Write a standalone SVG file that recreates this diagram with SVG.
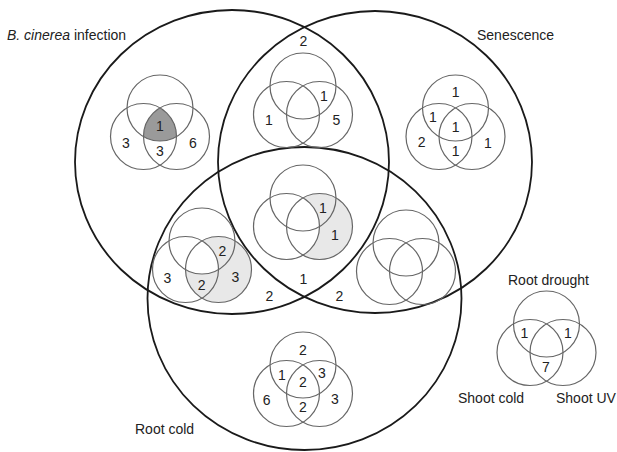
<svg xmlns="http://www.w3.org/2000/svg" xmlns:xlink="http://www.w3.org/1999/xlink" width="617" height="452" viewBox="0 0 617 452">
<style>
.big{fill:none;stroke:#1a1a1a;stroke-width:1.8}
.sm{fill:none;stroke:#666;stroke-width:1.2}
.n{font-family:"Liberation Sans",Arial,sans-serif;font-size:14px;text-anchor:middle;fill:#222}
.lbl{font-family:"Liberation Sans",Arial,sans-serif;font-size:14px;fill:#222}
.dark{fill:#9a9a9a}
.light{fill:#e8e8e8}
</style>
<defs>
<circle id="cT" cx="0" cy="-19" r="33"/>
<circle id="cL" cx="-16.5" cy="9.5" r="33"/>
<circle id="cR" cx="16.5" cy="9.5" r="33"/>
<g id="v3" class="sm"><use href="#cT"/><use href="#cL"/><use href="#cR"/></g>
<clipPath id="clipR"><use href="#cR"/></clipPath>
<clipPath id="clipL"><use href="#cL"/></clipPath>
<clipPath id="clipLR" clip-path="url(#clipR)"><use href="#cL"/></clipPath>
<mask id="mNotL" maskUnits="userSpaceOnUse" x="-80" y="-80" width="160" height="160"><rect x="-80" y="-80" width="160" height="160" fill="#fff"/><use href="#cL" fill="#000"/></mask>
<mask id="mNotTL" maskUnits="userSpaceOnUse" x="-80" y="-80" width="160" height="160"><rect x="-80" y="-80" width="160" height="160" fill="#fff"/><use href="#cT" fill="#000" clip-path="url(#clipL)"/></mask>
</defs>
<rect width="617" height="452" fill="#fff"/>

<g id="set-b-cinerea">
<ellipse class="big" cx="232" cy="162" rx="157" ry="152"/>
<text class="lbl" x="7" y="40"><tspan font-style="italic">B. cinerea</tspan> infection</text>
</g>
<g id="set-senescence">
<ellipse class="big" cx="375" cy="162" rx="157" ry="151"/>
<text class="lbl" x="477" y="40">Senescence</text>
</g>
<g id="set-root-cold">
<ellipse class="big" cx="304.5" cy="298.5" rx="157" ry="151.5"/>
<text class="lbl" x="135" y="434">Root cold</text>
</g>
<g id="big-region-labels">
<text class="n" x="303.5" y="46">2</text>
<text class="n" x="269.3" y="301">2</text>
<text class="n" x="303.3" y="284.3">1</text>
<text class="n" x="339.3" y="301">2</text>
</g>

<g id="venn-b-only">
<g transform="translate(160,127)"><use href="#cT" class="dark" clip-path="url(#clipLR)"/><use href="#v3"/></g>
<text class="n" x="160" y="131">1</text>
<text class="n" x="126" y="148">3</text>
<text class="n" x="160" y="156">3</text>
<text class="n" x="193" y="148">6</text>
</g>

<g id="venn-b-s">
<g transform="translate(303,105)"><use href="#v3"/></g>
<text class="n" x="324" y="101">1</text>
<text class="n" x="269" y="125">1</text>
<text class="n" x="336.5" y="125">5</text>
</g>

<g id="venn-s-only">
<g transform="translate(455.5,127)"><use href="#v3"/></g>
<text class="n" x="455.7" y="97">1</text>
<text class="n" x="433" y="122">1</text>
<text class="n" x="455.7" y="132">1</text>
<text class="n" x="421.7" y="147">2</text>
<text class="n" x="488" y="148">1</text>
<text class="n" x="455.7" y="156">1</text>
</g>

<g id="venn-b-s-r">
<g transform="translate(303,217)"><use href="#cR" class="light" mask="url(#mNotL)"/><use href="#v3"/></g>
<text class="n" x="323" y="213">1</text>
<text class="n" x="335" y="239.5">1</text>
</g>

<g id="venn-b-r">
<g transform="translate(202,260)"><use href="#cR" class="light" mask="url(#mNotTL)"/><use href="#v3"/></g>
<text class="n" x="222.5" y="256">2</text>
<text class="n" x="167.5" y="282.7">3</text>
<text class="n" x="201.7" y="290">2</text>
<text class="n" x="235.5" y="281.7">3</text>
</g>

<g id="venn-s-r">
<g transform="translate(406,262)"><use href="#v3"/></g>
</g>

<g id="venn-r-only">
<g transform="translate(303,384)"><use href="#v3"/></g>
<text class="n" x="303" y="355">2</text>
<text class="n" x="282" y="380">1</text>
<text class="n" x="303" y="386.7">2</text>
<text class="n" x="322" y="378">3</text>
<text class="n" x="266.7" y="405">6</text>
<text class="n" x="335" y="404">3</text>
<text class="n" x="303" y="411.7">2</text>
</g>

<g id="venn-legend">
<g transform="translate(546.5,343)"><use href="#v3"/></g>
<text class="n" x="524.5" y="338">1</text>
<text class="n" x="568" y="338">1</text>
<text class="n" x="546" y="372">7</text>
<text class="lbl" x="508" y="285">Root drought</text>
<text class="lbl" x="458" y="403">Shoot cold</text>
<text class="lbl" x="556" y="403">Shoot UV</text>
</g>

<g id="connectors"/>
</svg>
